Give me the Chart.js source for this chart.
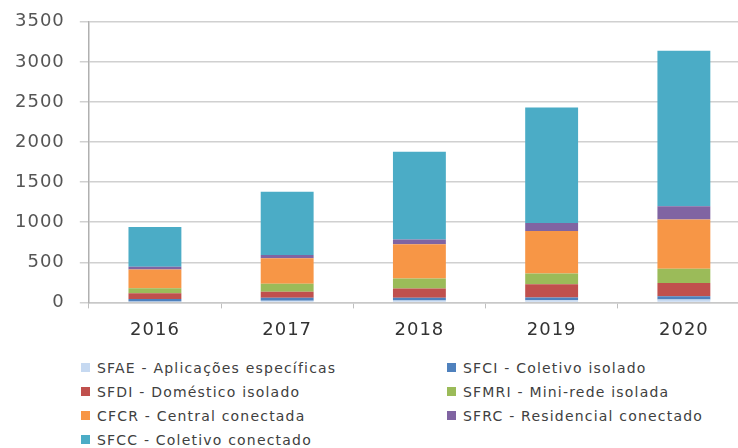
<!DOCTYPE html>
<html>
<head>
<meta charset="utf-8">
<script src="https://cdn.jsdelivr.net/npm/chart.js@4.4.1/dist/chart.umd.min.js"></script>
<style>
  html, body { margin: 0; padding: 0; background: #fff; overflow: hidden; }
  body { width: 738px; height: 448px; position: relative; font-family: "DejaVu Sans", sans-serif; }
  #wrap { position: absolute; left: 0; top: -4px; width: 752px; height: 356px; }
  #legend {
    position: absolute; left: 81px; top: 359px;
    display: grid; grid-template-columns: 366px 300px; row-gap: 6px;
    font-size: 14px; color: #404040; letter-spacing: 1.2px;
  }
  #legend div { height: 18px; line-height: 18px; white-space: nowrap; }
  #legend span { display: inline-block; width: 9px; height: 9px; margin-right: 7px; vertical-align: 1px; }
</style>
</head>
<body>
<div id="wrap"><canvas id="chart"></canvas></div>
<div id="legend"></div>
<script>
// ——— dados ———
const years = ["2016", "2017", "2018", "2019", "2020"];
const seriesNames = [
  "SFAE - Aplicações específicas",
  "SFCI - Coletivo isolado",
  "SFDI - Doméstico isolado",
  "SFMRI - Mini-rede isolada",
  "CFCR - Central conectada",
  "SFRC - Residencial conectado",
  "SFCC - Coletivo conectado"
];
const sfae  = [12, 22, 25, 27, 35];
const sfci  = [30, 35, 32, 34, 41];
const sfdi  = [71, 77, 117, 166, 166];
const sfmri = [62, 100, 125, 133, 179];
const cfcr  = [236, 316, 426, 530, 613];
const sfrc  = [33, 41, 59, 99, 166];
const sfcc  = [496, 789, 1096, 1441, 1938];
const yTicks = [0, 500, 1000, 1500, 2000, 2500, 3000, 3500];

const colors = ["#c6d9f1", "#4f81bd", "#c0504d", "#9bbb59", "#f79646", "#8064a2", "#4bacc6"];
const values = [sfae, sfci, sfdi, sfmri, cfcr, sfrc, sfcc];

const datasets = values.map((v, i) => ({
  label: seriesNames[i],
  data: v,
  backgroundColor: colors[i],
  borderWidth: 0,
  barPercentage: 0.4,
  categoryPercentage: 1
}));

// espaçamento entre letras (os números do original são largos)
const spacing = {
  id: "spacing",
  beforeUpdate: c => { c.ctx.letterSpacing = "1px"; },
  beforeDraw: c => { c.ctx.letterSpacing = "1px"; }
};

new Chart(document.getElementById("chart"), {
  type: "bar",
  data: { labels: years, datasets },
  plugins: [spacing],
  options: {
    responsive: true,
    maintainAspectRatio: false,
    animation: false,
    layout: { padding: { top: 6, left: 0, right: 2, bottom: 0 } },
    plugins: { legend: { display: false }, tooltip: { enabled: false } },
    scales: {
      x: {
        stacked: true,
        grid: { drawOnChartArea: false, tickLength: 6, color: "#bfbfbf", offset: true },
        border: { color: "#c8c8c8", width: 1.5 },
        ticks: { font: { family: "DejaVu Sans", size: 18 }, color: "#333", padding: 11 }
      },
      y: {
        stacked: true,
        min: 0,
        max: 3500,
        afterBuildTicks: s => { s.ticks = yTicks.map(v => ({ value: v })); },
        grid: { color: "#d0d0d0", lineWidth: 1.5, tickLength: 9 },
        border: { color: "#b0b0b0", width: 1.5 },
        ticks: {
          font: { family: "DejaVu Sans", size: 18 }, color: "#555", padding: 15,
          callback: v => String(v)
        }
      }
    }
  }
});

// legenda em duas colunas
const lg = document.getElementById("legend");
seriesNames.forEach((n, i) => {
  const d = document.createElement("div");
  d.innerHTML = `<span style="background:${colors[i]}"></span>${n}`;
  lg.appendChild(d);
});
</script>
</body>
</html>
